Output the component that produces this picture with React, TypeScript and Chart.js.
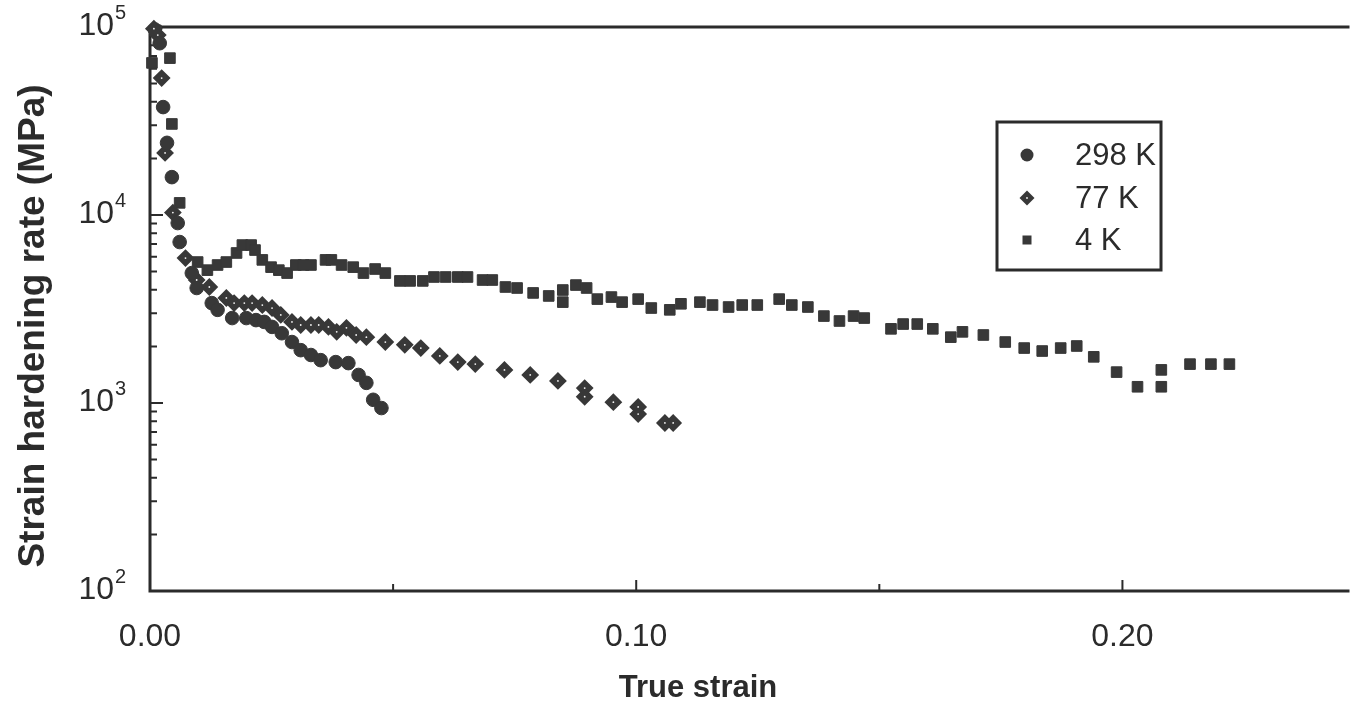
import React, { useEffect, useRef } from 'react';
import { Chart, registerables } from 'chart.js';

Chart.register(...registerables);

// ---- Data ----
const strain298K = [0.0010, 0.0020, 0.0027, 0.0035, 0.0045, 0.0057, 0.0061, 0.0086, 0.0096, 0.0127, 0.0139, 0.0169, 0.0198, 0.0218, 0.0235, 0.0251, 0.0271, 0.0292, 0.0310, 0.0331, 0.0351, 0.0382, 0.0408, 0.0429, 0.0445, 0.0459, 0.0476];
const rate298K = [97000, 82000, 37500, 24200, 15900, 9060, 7180, 4910, 4090, 3400, 3130, 2830, 2830, 2760, 2700, 2540, 2350, 2110, 1910, 1800, 1690, 1650, 1630, 1410, 1280, 1040, 940];

const strain77K = [0.0008, 0.0016, 0.0024, 0.0031, 0.0047, 0.0073, 0.0096, 0.0122, 0.0157, 0.0173, 0.0194, 0.0210, 0.0231, 0.0251, 0.0269, 0.0292, 0.0310, 0.0331, 0.0347, 0.0367, 0.0384, 0.0404, 0.0424, 0.0445, 0.0484, 0.0524, 0.0557, 0.0596, 0.0633, 0.0669, 0.0729, 0.0782, 0.0839, 0.0894, 0.0894, 0.0953, 0.1004, 0.1004, 0.1059, 0.1076];
const rate77K = [98000, 90600, 53500, 21400, 10300, 5900, 4510, 4140, 3620, 3400, 3400, 3400, 3320, 3200, 2940, 2700, 2600, 2600, 2600, 2540, 2390, 2510, 2300, 2240, 2110, 2040, 1960, 1780, 1650, 1610, 1500, 1410, 1310, 1200, 1080, 1010, 953, 873, 783, 783];

const strain4K = [0.0004, 0.0012, 0.0041, 0.0045, 0.0061, 0.0098, 0.0118, 0.0139, 0.0157, 0.0178, 0.0190, 0.0208, 0.0216, 0.0231, 0.0249, 0.0265, 0.0282, 0.0300, 0.0316, 0.0331, 0.0361, 0.0373, 0.0394, 0.0418, 0.0439, 0.0463, 0.0484, 0.0514, 0.0535, 0.0561, 0.0584, 0.0608, 0.0633, 0.0653, 0.0684, 0.0704, 0.0731, 0.0755, 0.0788, 0.0820, 0.0849, 0.0849, 0.0876, 0.0898, 0.0920, 0.0949, 0.0971, 0.1004, 0.1031, 0.1069, 0.1092, 0.1131, 0.1157, 0.1190, 0.1218, 0.1249, 0.1294, 0.1320, 0.1353, 0.1386, 0.1418, 0.1447, 0.1469, 0.1524, 0.1549, 0.1578, 0.1610, 0.1647, 0.1671, 0.1714, 0.1759, 0.1798, 0.1835, 0.1873, 0.1906, 0.1941, 0.1988, 0.2031, 0.2080, 0.2080, 0.2139, 0.2182, 0.2220];
const rate4K = [64400, 96000, 68300, 30500, 11600, 5620, 5090, 5420, 5620, 6280, 6920, 6920, 6510, 5770, 5280, 5090, 4910, 5420, 5420, 5420, 5770, 5770, 5420, 5280, 4910, 5160, 4910, 4460, 4460, 4460, 4680, 4680, 4680, 4680, 4510, 4510, 4140, 4090, 3850, 3710, 3990, 3440, 4240, 4090, 3570, 3660, 3440, 3570, 3200, 3130, 3370, 3440, 3320, 3240, 3320, 3320, 3570, 3320, 3240, 2900, 2730, 2900, 2830, 2480, 2630, 2630, 2480, 2240, 2390, 2300, 2110, 1960, 1890, 1960, 2010, 1760, 1460, 1220, 1500, 1220, 1610, 1610, 1610];

const seriesLabels = ['298 K', '77 K', '4 K'];
const xTickValues = [0, 0.05, 0.1, 0.15, 0.2];
const xTickLabels = ['0.00', '', '0.10', '', '0.20'];
const yDecadeValues = [100, 1000, 10000, 100000];
const yDecadeExponents = ['2', '3', '4', '5'];
const yMinorMultipliers = [2, 3, 4, 5, 6, 7, 8, 9];
const xTitle = 'True strain';
const yTitle = 'Strain hardening rate (MPa)';

const FONT = "'Liberation Sans', Arial, Helvetica, sans-serif";
const INK = '#2b2b2b';
const MARK = '#383838';

const toPoints = (xs: number[], ys: number[]) => xs.map((x, i) => ({ x, y: ys[i] }));

export default function App() {
  const ref = useRef<HTMLCanvasElement | null>(null);

  useEffect(() => {
    if (!ref.current) return;

    const decor = {
      id: 'decor',
      beforeDatasetsDraw(chart: any) {
        const { ctx, chartArea } = chart;
        const xs = chart.scales.x;
        const ys = chart.scales.y;
        ctx.save();
        ctx.strokeStyle = INK;
        ctx.lineWidth = 3;
        ctx.lineCap = 'butt';
        ctx.beginPath();
        ctx.moveTo(chartArea.left, chartArea.top - 1.5);
        ctx.lineTo(chartArea.left, chartArea.bottom + 1.5);
        ctx.moveTo(chartArea.left - 1.5, chartArea.bottom);
        ctx.lineTo(chartArea.right, chartArea.bottom);
        ctx.moveTo(chartArea.left - 1.5, chartArea.top);
        ctx.lineTo(chartArea.right, chartArea.top);
        ctx.stroke();
        ctx.lineWidth = 2;
        ctx.beginPath();
        yDecadeValues.forEach((dv, di) => {
          if (di < yDecadeValues.length - 1) {
            if (di > 0) {
              const py = ys.getPixelForValue(dv);
              ctx.moveTo(chartArea.left, py);
              ctx.lineTo(chartArea.left + 13, py);
            }
            yMinorMultipliers.forEach((m) => {
              const py = ys.getPixelForValue(dv * m);
              ctx.moveTo(chartArea.left, py);
              ctx.lineTo(chartArea.left + 7, py);
            });
          }
        });
        xTickValues.forEach((v, i) => {
          if (v === 0) return;
          const px = xs.getPixelForValue(v);
          const len = xTickLabels[i] ? 11 : 7;
          ctx.moveTo(px, chartArea.bottom);
          ctx.lineTo(px, chartArea.bottom - len);
        });
        ctx.stroke();
        ctx.restore();
      },
      afterDatasetsDraw(chart: any) {
        // small white centre dot in the 77 K diamonds
        const { ctx } = chart;
        const meta = chart.getDatasetMeta(1);
        ctx.save();
        ctx.fillStyle = '#f4f4f4';
        meta.data.forEach((el: any) => {
          ctx.beginPath();
          ctx.arc(el.x, el.y, 0.9, 0, Math.PI * 2);
          ctx.fill();
        });
        ctx.restore();
      },
      afterDraw(chart: any) {
        const { ctx } = chart;
        const ys = chart.scales.y;
        ctx.save();
        ctx.fillStyle = INK;
        // y tick labels with superscript exponents
        yDecadeValues.forEach((v, i) => {
          const py = ys.getPixelForValue(v);
          ctx.font = `32px ${FONT}`;
          ctx.textAlign = 'right';
          ctx.textBaseline = 'middle';
          ctx.fillText('10', 114, py - 1);
          ctx.font = `20px ${FONT}`;
          ctx.textAlign = 'left';
          ctx.fillText(yDecadeExponents[i], 115, py - 14);
        });
        // axis titles
        ctx.font = `bold 31px ${FONT}`;
        ctx.textAlign = 'center';
        ctx.textBaseline = 'middle';
        ctx.fillText(xTitle, 698, 688);
        ctx.save();
        ctx.translate(34, 326);
        ctx.rotate(-Math.PI / 2);
        ctx.font = `bold 37px ${FONT}`;
        ctx.fillText(yTitle, 0, 0);
        ctx.restore();
        // legend box
        const bx = 997, by = 122, bw = 164, bh = 148;
        ctx.strokeStyle = INK;
        ctx.lineWidth = 3;
        ctx.strokeRect(bx, by, bw, bh);
        const rows = [155, 198, 240];
        const mx = 1027;
        ctx.fillStyle = MARK;
        // 298 K circle
        ctx.beginPath();
        ctx.arc(mx, rows[0], 6.5, 0, Math.PI * 2);
        ctx.fill();
        // 77 K diamond
        ctx.beginPath();
        ctx.moveTo(mx, rows[1] - 7.5);
        ctx.lineTo(mx + 7.5, rows[1]);
        ctx.lineTo(mx, rows[1] + 7.5);
        ctx.lineTo(mx - 7.5, rows[1]);
        ctx.closePath();
        ctx.fill();
        ctx.fillStyle = '#f4f4f4';
        ctx.beginPath();
        ctx.arc(mx, rows[1], 0.9, 0, Math.PI * 2);
        ctx.fill();
        // 4 K square
        ctx.fillStyle = MARK;
        ctx.fillRect(mx - 4.5, rows[2] - 4.5, 9, 9);
        ctx.fillStyle = INK;
        ctx.font = `31px ${FONT}`;
        ctx.textAlign = 'left';
        ctx.textBaseline = 'middle';
        seriesLabels.forEach((s, i) => ctx.fillText(s, 1075, rows[i] + 1));
        ctx.restore();
      },
    };

    const chart = new Chart(ref.current, {
      type: 'scatter',
      data: {
        datasets: [
          {
            label: seriesLabels[0],
            data: toPoints(strain298K, rate298K),
            pointStyle: 'circle',
            pointRadius: 6.8,
            backgroundColor: MARK,
            borderColor: MARK,
            borderWidth: 1,
            clip: false,
          } as any,
          {
            label: seriesLabels[1],
            data: toPoints(strain77K, rate77K),
            pointStyle: 'rectRot',
            pointRadius: 7.5,
            backgroundColor: MARK,
            borderColor: MARK,
            borderWidth: 2,
            clip: false,
          } as any,
          {
            label: seriesLabels[2],
            data: toPoints(strain4K, rate4K),
            pointStyle: 'rect',
            pointRadius: 7.5,
            backgroundColor: MARK,
            borderColor: MARK,
            borderWidth: 1,
            clip: false,
          } as any,
        ],
      },
      options: {
        animation: false,
        responsive: false,
        maintainAspectRatio: false,
        layout: { padding: { top: 27, left: 0, right: 0, bottom: 0 } },
        plugins: {
          legend: { display: false },
          tooltip: { enabled: false },
        },
        scales: {
          x: {
            type: 'linear',
            min: 0,
            max: 0.2467,
            grid: { display: false },
            border: { display: false },
            afterFit: (s: any) => { s.height = 119; },
            ticks: {
              stepSize: 0.05,
              includeBounds: false,
              autoSkip: false,
              maxRotation: 0,
              padding: 19,
              color: INK,
              font: { family: FONT, size: 32 },
              callback: (v: any) => {
                const idx = xTickValues.findIndex((t) => Math.abs(t - Number(v)) < 1e-9);
                return idx >= 0 ? xTickLabels[idx] : '';
              },
            },
          },
          y: {
            type: 'logarithmic',
            min: 100,
            max: 100000,
            grid: { display: false },
            border: { display: false },
            afterFit: (s: any) => { s.width = 150; },
            ticks: { display: false },
          },
        },
      },
      plugins: [decor],
    } as any);

    return () => chart.destroy();
  }, []);

  return (
    <div style={{ position: 'absolute', left: 0, top: 0, width: 1359, height: 710, background: '#fff' }}>
      <canvas ref={ref} width={1359} height={710} style={{ display: 'block' }} />
    </div>
  );
}
